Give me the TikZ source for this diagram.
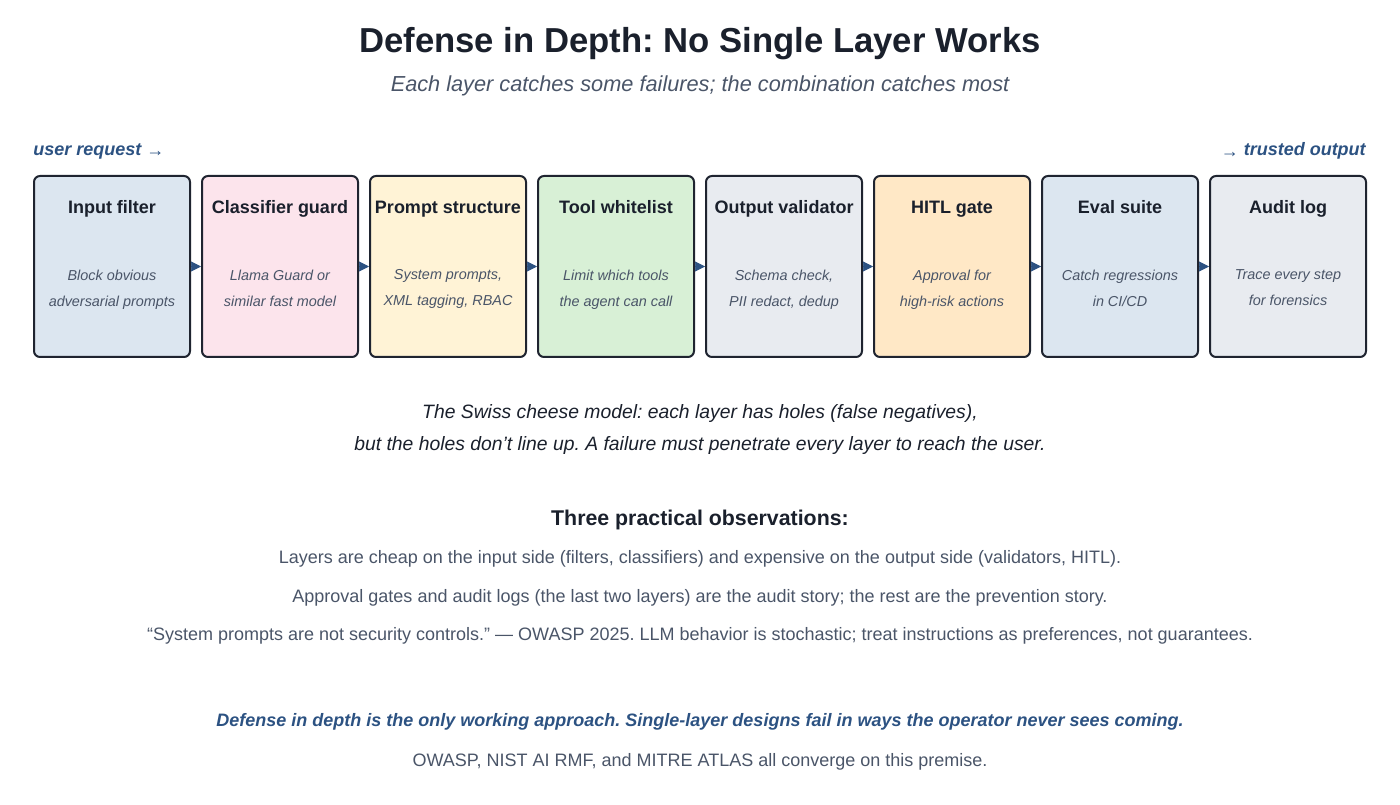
\documentclass[tikz,border=0pt]{standalone}
\usepackage{fontspec}
\setmainfont{Liberation Sans}
\usepackage{xcolor}
\usetikzlibrary{arrows.meta, positioning}
\frenchspacing

\definecolor{inkdark}{HTML}{1A202C}
\definecolor{inkgray}{HTML}{4A5568}
\definecolor{inkblue}{HTML}{2C5282}
\definecolor{edgedark}{HTML}{1F2430}
\definecolor{fblue}{HTML}{DCE6F0}
\definecolor{fpink}{HTML}{FCE4EC}
\definecolor{fyellow}{HTML}{FFF3D6}
\definecolor{fgreen}{HTML}{D8F0D6}
\definecolor{fgray}{HTML}{E8EBF0}
\definecolor{forange}{HTML}{FFE8C6}

\begin{document}
\begin{tikzpicture}[x=0.75pt,y=-0.75pt,>={Triangle[length=7.5pt,width=7.5pt]}]

% Stili dei livelli
\tikzset{layer/.style={draw=edgedark, line width=1.5pt, rounded corners=4.5pt,
    minimum width=117pt, minimum height=135.75pt, inner sep=0pt},
  ltitle/.style={font=\bfseries\fontsize{13.5}{16}\selectfont, text=inkdark, anchor=base, inner sep=0pt},
  ldesc/.style={font=\itshape\fontsize{10.8}{19.5}\selectfont, text=inkgray, align=center, anchor=north, inner sep=0pt},
  flow/.style={->, inkblue, line width=0.5pt},
  note/.style={font=\fontsize{13.5}{16}\selectfont, text=inkgray}}

\useasboundingbox (0,0) rectangle (1400,805);

% --- Titolo ---
\node[font=\bfseries\fontsize{26}{30}\selectfont, text=inkdark] (title) at (700,44) {Defense in Depth: No Single Layer Works};
\node[font=\itshape\fontsize{16.3}{19}\selectfont, text=inkgray] (subtitle) at (700,86) {Each layer catches some failures; the combination catches most};

% Ingresso e uscita
\node[anchor=west, inner sep=0pt, font=\bfseries\itshape\fontsize{13.5}{16}\selectfont, text=inkblue] (inreq) at (33,151) {user request {\normalfont\raisebox{-1.5pt}{→}}};
\node[anchor=east, inner sep=0pt, font=\bfseries\itshape\fontsize{13.5}{16}\selectfont, text=inkblue] (outtrust) at (1366,151) {{\normalfont\raisebox{-1.5pt}{→}} trusted output};

% --- Livelli ---
\foreach \i/\col/\name/\desc [evaluate=\i as \xc using 112+168*(\i-1)] in {
  1/fblue/Input filter/{Block obvious\\adversarial prompts},
  2/fpink/Classifier guard/{Llama Guard or\\similar fast model},
  3/fyellow/Prompt structure/{System prompts,\\XML tagging, RBAC},
  4/fgreen/Tool whitelist/{Limit which tools\\the agent can call},
  5/fgray/Output validator/{Schema check,\\PII redact, dedup},
  6/forange/HITL gate/{Approval for\\high-risk actions},
  7/fblue/Eval suite/{Catch regressions\\in CI/CD},
  8/fgray/Audit log/{Trace every step\\for forensics}}{
  \node[layer, fill=\col] (b\i) at (\xc,266.5) {};
  \node[ltitle] (t\i) at (\xc,213.5) {\name};
  \node[ldesc] (d\i) at (\xc,269.5) {\desc};
}

% Frecce tra i livelli
\foreach \i [evaluate=\i as \j using int(\i+1)] in {1,...,7}
  \draw[flow] (b\i.east) -- (b\j.west);

% --- Modello a formaggio svizzero ---
\node[font=\itshape\fontsize{14.5}{24}\selectfont, text=inkdark, align=center] (swiss) at (700,430)
  {The Swiss cheese model: each layer has holes (false negatives),\\but the holes don’t line up. A failure must penetrate every layer to reach the user.};

% --- Osservazioni ---
\node[font=\bfseries\fontsize{16}{19}\selectfont, text=inkdark] (obshead) at (700,520) {Three practical observations:};
\node[note] (obs1) at (700,559) {Layers are cheap on the input side (filters, classifiers) and expensive on the output side (validators, HITL).};
\node[note] (obs2) at (700,598) {Approval gates and audit logs (the last two layers) are the audit story; the rest are the prevention story.};
\node[note] (obs3) at (700,636) {“System prompts are not security controls.” — OWASP 2025. LLM behavior is stochastic; treat instructions as preferences, not guarantees.};

% --- Conclusione ---
\node[font=\bfseries\itshape\fontsize{13.5}{16}\selectfont, text=inkblue] (motto) at (700,722) {Defense in depth is the only working approach. Single-layer designs fail in ways the operator never sees coming.};
\node[note] (sources) at (700,762) {OWASP, NIST AI RMF, and MITRE ATLAS all converge on this premise.};

\end{tikzpicture}
\end{document}
